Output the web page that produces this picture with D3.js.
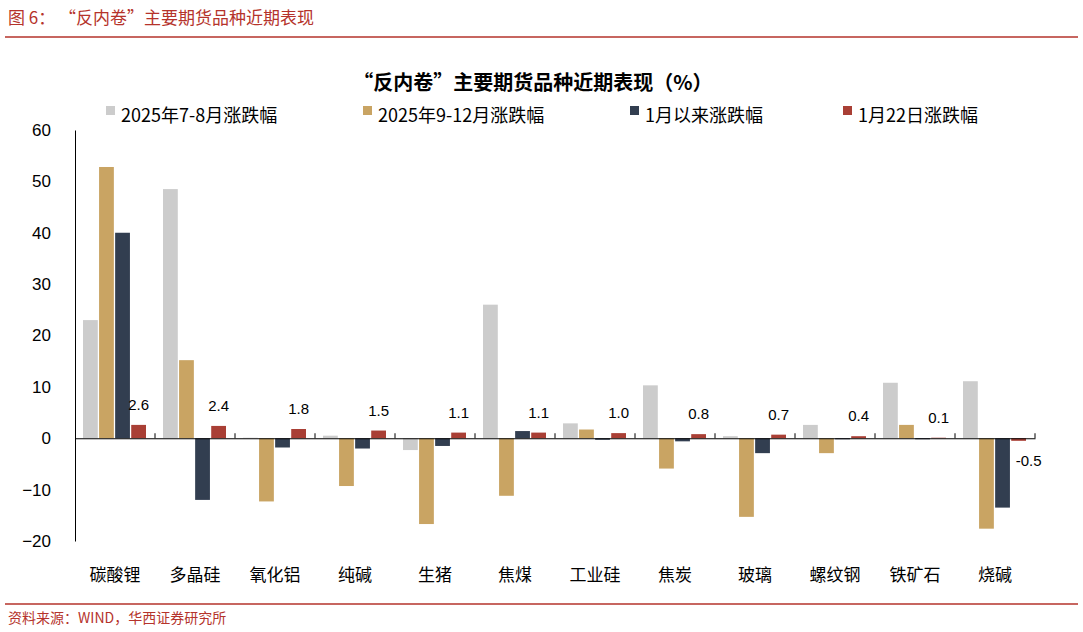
<!DOCTYPE html><html><head><meta charset="utf-8"><script src="https://cdn.jsdelivr.net/npm/d3@7"></script>
<style>body{margin:0;background:#fff}svg text{font-family:"Noto Sans CJK SC","Liberation Sans",sans-serif}</style></head><body>
<svg id="c" width="1083" height="632"></svg>
<script>
const categories=["碳酸锂","多晶硅","氧化铝","纯碱","生猪","焦煤","工业硅","焦炭","玻璃","螺纹钢","铁矿石","烧碱"];
const seriesNames=["2025年7-8月涨跌幅","2025年9-12月涨跌幅","1月以来涨跌幅","1月22日涨跌幅"];
const s1=[23,48.5,0.1,0.5,-2.3,26,2.9,10.3,0.4,2.6,10.8,11.1];
const s2=[52.8,15.2,-12.3,-9.3,-16.7,-11.2,1.7,-5.9,-15.3,-2.9,2.6,-17.6];
const s3=[40,-12,-1.8,-2,-1.5,1.4,-0.3,-0.6,-2.9,-0.2,-0.2,-13.5];
const s4=[2.6,2.4,1.8,1.5,1.1,1.1,1.0,0.8,0.7,0.4,0.1,-0.5];
const yTicks=[-20,-10,0,10,20,30,40,50,60];
const colors=["#cccccc","#c9a463","#323e50","#a93f35"];
const series=[s1,s2,s3,s4];
const svg=d3.select("#c");
const red="#b5332b";
svg.append("text").attr("x",8).attr("y",24).attr("fill",red).attr("font-size",17).text("图 6：  “反内卷”主要期货品种近期表现");
svg.append("line").attr("x1",5).attr("x2",1078).attr("y1",37).attr("y2",37).attr("stroke",red).attr("stroke-width",1.5);
svg.append("line").attr("x1",5).attr("x2",1078).attr("y1",604).attr("y2",604).attr("stroke",red).attr("stroke-width",1.5);
svg.append("text").attr("x",8).attr("y",623).attr("fill",red).attr("font-size",14).text("资料来源：WIND，华西证券研究所");
svg.append("text").attr("x",533).attr("y",90).attr("text-anchor","middle").attr("font-size",20).attr("font-weight","bold").text("“反内卷”主要期货品种近期表现（%）");
const lx=[106,363,630,843];
seriesNames.forEach((n,i)=>{svg.append("rect").attr("x",lx[i]).attr("y",106).attr("width",9).attr("height",9).attr("fill",colors[i]);
svg.append("text").attr("x",lx[i]+15).attr("y",122).attr("font-size",18).text(n);});
const y=d3.scaleLinear().domain([-20,60]).range([541,130]);
const x=d3.scaleBand().domain(categories).range([75,1035]);
const xs=d3.scaleBand().domain([0,1,2,3]).range([8,71]).paddingInner(0.08);
const ya=svg.append("g").attr("transform","translate(75,0)").call(d3.axisLeft(y).tickValues(yTicks).tickSize(0).tickPadding(24));
ya.select(".domain").attr("stroke","#000");
ya.selectAll("text").attr("font-size",17).attr("fill","#000").style("font-family","Liberation Sans");
series.forEach((s,i)=>{svg.selectAll(null).data(s).enter().append("rect")
.attr("x",(d,j)=>x(categories[j])+xs(i)).attr("width",xs.bandwidth())
.attr("y",d=>y(Math.max(0,d))).attr("height",d=>Math.abs(y(d)-y(0))).attr("fill",colors[i]);});
const xa=svg.append("g").attr("transform",`translate(0,${y(0)})`).call(d3.axisBottom(x).tickSize(0).tickFormat(""));
xa.select(".domain").attr("stroke","#000");
categories.forEach(c=>svg.append("line").attr("x1",x(c)+80).attr("x2",x(c)+80).attr("y1",y(0)-5).attr("y2",y(0)).attr("stroke","#000"));
svg.selectAll(null).data(categories).enter().append("text").attr("x",d=>x(d)+x.bandwidth()/2).attr("y",581).attr("text-anchor","middle").attr("font-size",17).text(d=>d);
svg.selectAll(null).data(s4).enter().append("text").attr("x",(d,j)=>x(categories[j])+xs(3)+xs.bandwidth()/2+(d<0?10:0))
.attr("y",d=>d<0?y(0)+28:y(d)-15).attr("text-anchor","middle").attr("font-size",15).style("font-family","Liberation Sans").text(d=>d.toFixed(1));
</script></body></html>
